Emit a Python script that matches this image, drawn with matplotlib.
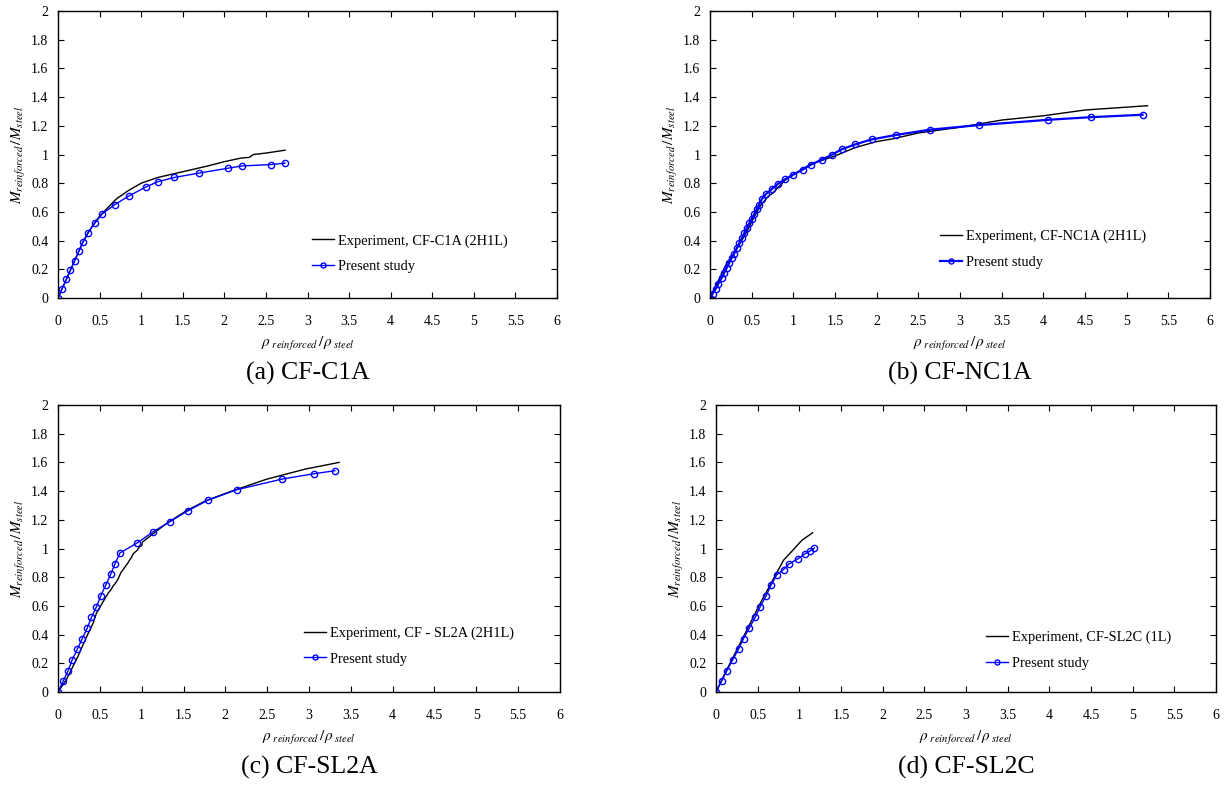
import numpy as np
import matplotlib
matplotlib.use("Agg")
import matplotlib.pyplot as plt

plt.rcParams["font.family"] = ["Liberation Serif", "DejaVu Serif"]
plt.rcParams["mathtext.fontset"] = "stix"

# ---- (a) CF-C1A ----
a_exp_x = [0, 0.1, 0.2, 0.3, 0.4, 0.5, 0.6, 0.7, 0.85, 1.0, 1.2, 1.5, 1.8, 2.0, 2.2, 2.3, 2.35, 2.5, 2.73]
a_exp_y = [0, 0.13, 0.26, 0.39, 0.49, 0.57, 0.63, 0.69, 0.75, 0.80, 0.84, 0.88, 0.92, 0.95, 0.975, 0.98, 1.0, 1.01, 1.03]
a_ps_x = [0, 0.05, 0.1, 0.15, 0.2, 0.25, 0.3, 0.36, 0.44, 0.53, 0.68, 0.85, 1.06, 1.2, 1.4, 1.69, 2.05, 2.21, 2.56, 2.73]
a_ps_y = [0, 0.065, 0.13, 0.195, 0.26, 0.325, 0.39, 0.455, 0.52, 0.585, 0.65, 0.71, 0.775, 0.81, 0.84, 0.87, 0.905, 0.92, 0.93, 0.94]

# ---- (b) CF-NC1A ----
b_exp_x = [0, 0.1, 0.2, 0.3, 0.35, 0.45, 0.5, 0.6, 0.7, 0.75, 0.9, 1.0, 1.2, 1.5, 1.75, 2.0, 2.2, 2.5, 3.0, 3.5, 4.0, 4.5, 5.25]
b_exp_y = [0, 0.12, 0.24, 0.32, 0.37, 0.47, 0.53, 0.64, 0.71, 0.73, 0.82, 0.86, 0.93, 0.99, 1.05, 1.09, 1.11, 1.15, 1.19, 1.24, 1.27, 1.31, 1.34]
b_ps_x = [0, 0.03, 0.07, 0.1, 0.14, 0.17, 0.2, 0.23, 0.26, 0.29, 0.32, 0.35, 0.38, 0.41, 0.44, 0.47,
          0.5, 0.53, 0.56, 0.59, 0.62, 0.67, 0.74, 0.81, 0.9, 1.0, 1.11, 1.21, 1.34, 1.46, 1.58, 1.74,
          1.94, 2.23, 2.64, 3.23, 4.06, 4.57, 5.19]
b_ps_y = [0, 0.03, 0.065, 0.1, 0.14, 0.175, 0.21, 0.245, 0.28, 0.31, 0.345, 0.38, 0.415, 0.45, 0.485, 0.52,
          0.55, 0.585, 0.62, 0.651, 0.688, 0.723, 0.758, 0.793, 0.827, 0.86, 0.894, 0.929, 0.964, 0.997, 1.036, 1.07,
          1.105, 1.136, 1.173, 1.205, 1.242, 1.26, 1.277]

# ---- (c) CF-SL2A ----
c_exp_x = [0, 0.1, 0.24, 0.33, 0.42, 0.46, 0.49, 0.55, 0.6, 0.63, 0.66, 0.69, 0.72, 0.75, 0.83, 0.88, 0.9,
           0.95, 0.97, 1.0, 1.01, 1.13, 1.31, 1.54, 1.77, 2.09, 2.5, 2.96, 3.36]
c_exp_y = [0, 0.086, 0.25, 0.37, 0.48, 0.55, 0.58, 0.64, 0.69, 0.71, 0.74, 0.76, 0.79, 0.83, 0.895, 0.94, 0.964,
           0.99, 1.01, 1.02, 1.045, 1.10, 1.18, 1.265, 1.334, 1.403, 1.484, 1.554, 1.60]
c_ps_x = [0, 0.06, 0.12, 0.17, 0.23, 0.29, 0.35, 0.40, 0.46, 0.51, 0.57, 0.63, 0.68, 0.74, 0.95, 1.13,
          1.34, 1.55, 1.79, 2.14, 2.68, 3.06, 3.31]
c_ps_y = [0, 0.074, 0.148, 0.224, 0.298, 0.372, 0.446, 0.52, 0.594, 0.668, 0.744, 0.82, 0.892, 0.969, 1.04, 1.114,
          1.188, 1.262, 1.336, 1.41, 1.484, 1.521, 1.542]

# ---- (d) CF-SL2C ----
d_exp_x = [0, 0.09, 0.31, 0.53, 0.70, 0.81, 0.92, 1.03, 1.16]
d_exp_y = [0, 0.11, 0.363, 0.617, 0.80, 0.918, 0.987, 1.057, 1.11]
d_ps_x = [0, 0.066, 0.13, 0.2, 0.27, 0.33, 0.40, 0.47, 0.53, 0.6, 0.66, 0.73, 0.81, 0.87, 0.98, 1.07, 1.13, 1.18]
d_ps_y = [0, 0.074, 0.148, 0.224, 0.298, 0.372, 0.446, 0.52, 0.594, 0.668, 0.744, 0.818, 0.853, 0.89, 0.927, 0.964, 0.983, 1.003]

panels = [
    ("(a) CF-C1A", "Experiment, CF-C1A (2H1L)", a_exp_x, a_exp_y, a_ps_x, a_ps_y),
    ("(b) CF-NC1A", "Experiment, CF-NC1A (2H1L)", b_exp_x, b_exp_y, b_ps_x, b_ps_y),
    ("(c) CF-SL2A", "Experiment, CF - SL2A (2H1L)", c_exp_x, c_exp_y, c_ps_x, c_ps_y),
    ("(d) CF-SL2C", "Experiment, CF-SL2C (1L)", d_exp_x, d_exp_y, d_ps_x, d_ps_y),
]

W, H = 1226, 786
# axes boxes in pixels: left, top, right, bottom
boxes = [(58, 11, 557, 298), (710, 11, 1210, 298), (58, 405, 560, 692), (716, 405, 1216, 692)]
leg_x = [0.51, 0.46, 0.49, 0.54]
leg_y = [0.155, 0.17, 0.16, 0.145]
blue_lw = [1.0, 1.6, 1.0, 1.0]

fig = plt.figure(figsize=(W / 100, H / 100), dpi=100)

for i, (cap, exp_label, ex, ey, px, py) in enumerate(panels):
    l, t, r, b = boxes[i]
    ax = fig.add_axes([l / W, 1 - b / H, (r - l) / W, (b - t) / H])
    ax.plot(ex, ey, color="black", lw=1.0, label=exp_label)
    ax.plot(px, py, color="#0000ff", lw=blue_lw[i], marker="o", ms=4.5, mfc="none",
            mec="#0000ff", mew=1.0, label="Present study")
    ax.set_xlim(0, 6)
    ax.set_ylim(0, 2)
    ax.set_xticks(np.arange(0, 6.01, 0.5))
    ax.set_yticks(np.arange(0, 2.01, 0.2))
    ax.set_xticklabels(["0", "0.5", "1", "1.5", "2", "2.5", "3", "3.5", "4", "4.5", "5", "5.5", "6"])
    ax.set_yticklabels(["0", "0.2", "0.4", "0.6", "0.8", "1", "1.2", "1.4", "1.6", "1.8", "2"])
    ax.tick_params(direction="in", top=True, right=True, labelsize=10, length=4, width=0.8)
    ax.tick_params(axis="x", pad=12)
    ax.tick_params(axis="y", pad=7)
    for s in ax.spines.values():
        s.set_linewidth(1.0)
    ax.set_xlabel(r"$\rho_{\ reinforced}\,/\rho_{\ steel}$", fontsize=11, labelpad=5)
    ax.set_ylabel(r"$M_{reinforced}\,/M_{steel}$", fontsize=11, labelpad=2)
    ax.legend(loc="center left", bbox_to_anchor=(leg_x[i], leg_y[i]), frameon=False,
              fontsize=10.4, handlelength=1.5, handletextpad=0.3, labelspacing=0.85,
              borderaxespad=0, borderpad=0, markerscale=0.8)
    cy = 373 if i < 2 else 767
    fig.text((l + r) / 2 / W, 1 - cy / H, cap, ha="center", va="center", fontsize=18.5)

fig.savefig("out.png", dpi=100)
